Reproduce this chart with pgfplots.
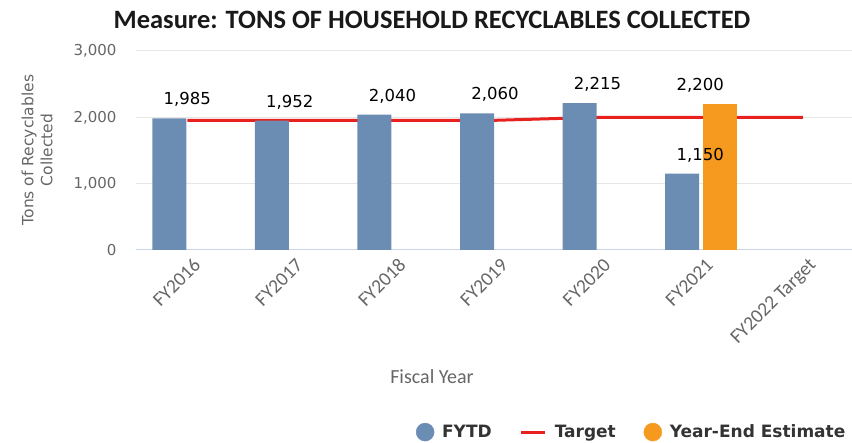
\documentclass[border=0pt]{standalone}
\usepackage{fontspec}
\setmainfont{DejaVu Sans}
\newfontfamily\carlito{Carlito}
\usepackage{pgfplots}
\pgfplotsset{compat=1.18}
\pgfplotsset{longline/.style={legend image code/.code={\draw[##1] (0pt,0pt) -- (24pt,0pt);}}}

\definecolor{fytd}{HTML}{6B8DB4}
\definecolor{yee}{HTML}{F59A1E}
\definecolor{target}{HTML}{E8201E}
\definecolor{gridc}{HTML}{E6E6E6}
\definecolor{basec}{HTML}{CCD6EB}
\definecolor{ticktext}{HTML}{666666}
\definecolor{legtext}{HTML}{333333}

\begin{document}
\begin{tikzpicture}
\useasboundingbox (-136pt,-193pt) rectangle (716pt,250pt);
\begin{axis}[
    at={(0,0)}, anchor=south west,
    scale only axis,
    width=716pt, height=199pt,
    xmin=-0.5, xmax=6.48,
    ymin=0, ymax=3000,
    axis line style={draw=none},
    major tick length=0pt,
    ytick={0,1000,2000,3000},
    ymajorgrids=true,
    grid style={gridc, line width=1pt},
    xtick={0,1,2,3,4,5,6},
    xticklabels={FY2016,FY2017,FY2018,FY2019,FY2020,FY2021,FY2022 Target},
    /pgf/number format/.cd, 1000 sep={,}, assume math mode=true,
    /pgfplots/.cd,
    yticklabel style={font=\fontsize{15}{18}\selectfont, text=ticktext, xshift=-16pt},
    xticklabel style={font=\carlito\fontsize{19.5}{22}\selectfont, text=ticktext,
        rotate=45, anchor=north east, xshift=2pt, yshift=-5pt},
    legend columns=3,
    legend style={at={(0.998,-0.915)}, anchor=east, draw=none, fill=none,
        font=\bfseries\fontsize{17}{20}\selectfont, text=legtext,
        /tikz/every odd column/.append style={column sep=6pt},
        /tikz/every even column/.append style={column sep=26pt}},
]
\draw[basec, line width=1.2pt] (rel axis cs:0,0) -- (rel axis cs:1,0);

% target line sits behind the bars
\addplot[target, line width=3pt, forget plot] coordinates {
    (0,1955) (1,1955) (2,1955) (3,1955) (4,2000) (5,2000) (6,2000)};

\addplot[ybar, bar width=34pt, bar shift=-18pt, fill=fytd, draw=none, forget plot,
    nodes near coords,
    every node near coord/.append style={font=\fontsize{16.5}{19}\selectfont, text=black, yshift=8pt}]
    coordinates {(0,1985) (1,1952) (2,2040) (3,2060) (4,2215) (5,1150)};

\addplot[ybar, bar width=34pt, bar shift=20pt, fill=yee, draw=none, forget plot,
    nodes near coords,
    every node near coord/.append style={font=\fontsize{16.5}{19}\selectfont, text=black, yshift=8pt}]
    coordinates {(5,2200)};

\addlegendimage{only marks, mark=*, mark size=9pt, fytd}
\addlegendentry{FYTD}
\addlegendimage{target, line width=3pt, longline}
\addlegendentry{Target}
\addlegendimage{only marks, mark=*, mark size=9pt, yee}
\addlegendentry{Year-End Estimate}
\end{axis}

\node[font=\carlito\bfseries\fontsize{26.5}{30}\selectfont, text=black!90] at (296pt,230pt)
    {Measure: TONS OF HOUSEHOLD RECYCLABLES COLLECTED};
\node[font=\fontsize{15.5}{19}\selectfont, text=ticktext, rotate=90, align=center] at (-99pt,100pt)
    {Tons of Recyclables\\Collected};
\node[font=\carlito\fontsize{20}{24}\selectfont, text=ticktext] at (296pt,-127pt) {Fiscal Year};
\end{tikzpicture}
\end{document}
